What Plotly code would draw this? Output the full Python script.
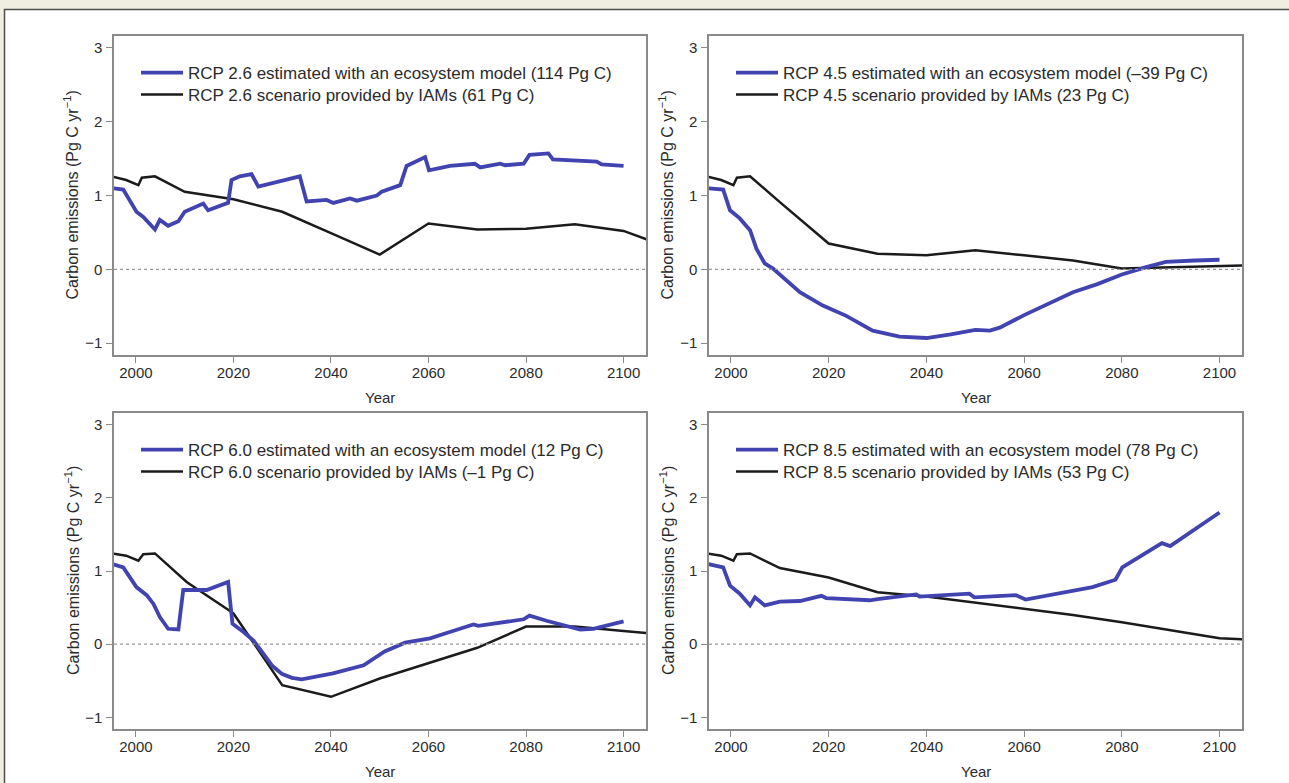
import plotly.graph_objects as go

W, H = 1289, 783

# ---- data -------------------------------------------------------------
x_tick_years = [2000, 2020, 2040, 2060, 2080, 2100]
y_tick_values = [-1, 0, 1, 2, 3]

scenarios = ["2.6", "4.5", "6.0", "8.5"]
model_totals = ["114", "–39", "12", "78"]
iam_totals = ["61", "23", "–1", "53"]

# RCP 2.6
rcp26_model_year = [1995, 1997.4, 2000.1, 2001.5, 2003.9, 2004.9, 2006.6, 2008.7, 2010, 2013.8,
                    2014.8, 2018.9, 2019.6, 2021.3, 2023.7, 2025.1, 2033.6, 2035, 2039.1, 2040.5,
                    2043.9, 2045.3, 2049.4, 2050.4, 2054.2, 2055.5, 2059.3, 2060.1, 2064.4, 2069.5,
                    2070.6, 2074.7, 2075.7, 2079.5, 2080.7, 2084.6, 2085.5, 2090.4, 2094.5, 2095.5, 2100]
rcp26_model = [1.10, 1.08, 0.78, 0.71, 0.54, 0.67, 0.59, 0.65, 0.78, 0.89,
               0.80, 0.90, 1.21, 1.26, 1.29, 1.12, 1.26, 0.92, 0.94, 0.90,
               0.96, 0.93, 1.00, 1.05, 1.14, 1.40, 1.52, 1.34, 1.40, 1.43,
               1.38, 1.43, 1.41, 1.43, 1.55, 1.57, 1.49, 1.48, 1.46, 1.42, 1.40]
rcp26_iam_year = [1995, 1998, 2000.5, 2001.2, 2003.9, 2010, 2020, 2030, 2040, 2050,
                  2060, 2070, 2080, 2090, 2100, 2110]
rcp26_iam = [1.26, 1.21, 1.14, 1.24, 1.26, 1.05, 0.95, 0.78, 0.49, 0.20,
             0.62, 0.54, 0.55, 0.61, 0.52, 0.28]

# RCP 4.5
rcp45_model_year = [1995, 1998.4, 1999.8, 2001.8, 2003.9, 2005.2, 2006.9, 2008.6, 2014.1, 2018.8,
                    2023.6, 2029, 2034.5, 2040, 2045, 2050, 2053, 2055, 2060, 2065,
                    2070, 2075, 2080, 2085, 2089, 2095, 2100]
rcp45_model = [1.10, 1.08, 0.80, 0.69, 0.53, 0.28, 0.08, 0.01, -0.31, -0.49,
               -0.63, -0.83, -0.91, -0.93, -0.88, -0.82, -0.83, -0.79, -0.62, -0.46,
               -0.31, -0.20, -0.07, 0.03, 0.10, 0.12, 0.13]
rcp45_iam_year = [1995, 1998, 2000.5, 2001.2, 2003.9, 2010, 2020, 2030, 2040, 2050,
                  2060, 2070, 2080, 2090, 2100, 2110]
rcp45_iam = [1.26, 1.21, 1.14, 1.24, 1.26, 0.91, 0.35, 0.21, 0.19, 0.26,
             0.19, 0.12, 0.01, 0.03, 0.04, 0.06]

# RCP 6.0
rcp60_model_year = [1995, 1997.4, 2000.1, 2002.2, 2003.6, 2004.9, 2006.6, 2008.7, 2009.7, 2014.5,
                    2018.9, 2019.8, 2022, 2024.1, 2026, 2028, 2030, 2032, 2034, 2040.4,
                    2046.7, 2051, 2055.2, 2060.3, 2065, 2069.2, 2070.2, 2079.5, 2080.7, 2084.2,
                    2091.1, 2093.8, 2100]
rcp60_model = [1.10, 1.05, 0.78, 0.67, 0.55, 0.37, 0.21, 0.20, 0.74, 0.74,
               0.85, 0.28, 0.17, 0.05, -0.12, -0.30, -0.41, -0.46, -0.48, -0.40,
               -0.29, -0.10, 0.02, 0.08, 0.18, 0.27, 0.25, 0.34, 0.39, 0.32,
               0.20, 0.21, 0.31]
rcp60_iam_year = [1995, 1998, 2000.5, 2001.5, 2003.9, 2010.4, 2018.9, 2020, 2030, 2040,
                  2050, 2060, 2070, 2080, 2090, 2100, 2110]
rcp60_iam = [1.24, 1.21, 1.14, 1.23, 1.24, 0.85, 0.47, 0.42, -0.56, -0.72,
             -0.47, -0.26, -0.05, 0.24, 0.24, 0.18, 0.12]

# RCP 8.5
rcp85_model_year = [1995, 1998.4, 1999.8, 2001.8, 2003.9, 2004.9, 2006.9, 2010, 2014.1, 2018.5,
                    2019.5, 2028.4, 2030.4, 2037.9, 2038.6, 2048.8, 2049.8, 2058.3, 2060.3, 2068.5,
                    2074, 2078.7, 2080.1, 2088.2, 2089.9, 2100]
rcp85_model = [1.10, 1.05, 0.80, 0.69, 0.53, 0.64, 0.53, 0.58, 0.59, 0.66,
               0.63, 0.60, 0.62, 0.68, 0.65, 0.69, 0.64, 0.67, 0.61, 0.71,
               0.78, 0.88, 1.05, 1.38, 1.34, 1.80]
rcp85_iam_year = [1995, 1998, 2000.5, 2001.2, 2003.9, 2010, 2020, 2030, 2040, 2050,
                  2060, 2070, 2080, 2090, 2100, 2110]
rcp85_iam = [1.24, 1.21, 1.14, 1.23, 1.24, 1.04, 0.91, 0.71, 0.65, 0.57,
             0.49, 0.40, 0.30, 0.19, 0.08, 0.05]

model_series = [(rcp26_model_year, rcp26_model), (rcp45_model_year, rcp45_model),
                (rcp60_model_year, rcp60_model), (rcp85_model_year, rcp85_model)]
iam_series = [(rcp26_iam_year, rcp26_iam), (rcp45_iam_year, rcp45_iam),
              (rcp60_iam_year, rcp60_iam), (rcp85_iam_year, rcp85_iam)]

# ---- styling ----------------------------------------------------------
FONT = "Liberation Sans, Arial, Helvetica, sans-serif"
BLUE = "#4043b0"
BLACK = "#1b1b1b"
AXIS_GREY = "#8a8a8a"
TEXT = "#2b2b2b"

# plot areas in pixels: (left, right, top, bottom)
panels_px = [(114, 646, 36, 355), (709, 1242, 36, 355),
             (114, 646, 413, 729), (709, 1242, 413, 729)]

fig = go.Figure()
layout = dict(
    width=W, height=H,
    margin=dict(l=0, r=0, t=0, b=0),
    paper_bgcolor="#f0ede1",
    plot_bgcolor="white",
    showlegend=True,
    font=dict(family=FONT, color=TEXT),
    annotations=[], shapes=[],
)

# outer white frame (open towards the right and bottom edges)
layout["shapes"].append(dict(
    type="rect", xref="paper", yref="paper", layer="below",
    x0=4.5 / W, x1=1.05, y0=-0.05, y1=1 - 9.5 / H,
    fillcolor="white", line=dict(color="#4d4d4d", width=1.5)))


def legend_name(k):
    return "legend" if k == 1 else f"legend{k}"


for i, (left, right, top, bottom) in enumerate(panels_px):
    n = i + 1
    xa = "x" if n == 1 else f"x{n}"
    ya = "y" if n == 1 else f"y{n}"
    leg_model = legend_name(2 * i + 1)
    leg_iam = legend_name(2 * i + 2)

    iy, iv = iam_series[i]
    my, mv = model_series[i]
    fig.add_trace(go.Scatter(
        x=iy, y=iv, mode="lines", xaxis=xa, yaxis=ya, legend=leg_iam, showlegend=True,
        line=dict(color=BLACK, width=2.5),
        name=f"RCP {scenarios[i]} scenario provided by IAMs ({iam_totals[i]} Pg C)"))
    fig.add_trace(go.Scatter(
        x=my, y=mv, mode="lines", xaxis=xa, yaxis=ya, legend=leg_model, showlegend=True,
        line=dict(color=BLUE, width=3.8),
        name=f"RCP {scenarios[i]} estimated with an ecosystem model ({model_totals[i]} Pg C)"))

    axis_common = dict(
        showline=True, mirror=True, linecolor=AXIS_GREY, linewidth=1.5,
        ticks="outside", ticklen=6, tickwidth=1.2, tickcolor=AXIS_GREY,
        showgrid=False, zeroline=False,
        tickfont=dict(size=15, color=TEXT, family=FONT),
    )
    layout[("xaxis" if n == 1 else f"xaxis{n}")] = dict(
        axis_common, domain=[left / W, right / W], anchor=ya,
        range=[1995.5, 2104.6], tickmode="array", tickvals=x_tick_years,
        ticklabelstandoff=-3)
    layout[("yaxis" if n == 1 else f"yaxis{n}")] = dict(
        axis_common, domain=[1 - bottom / H, 1 - top / H], anchor=xa,
        range=[-1.16, 3.16], tickmode="array", tickvals=y_tick_values,
        ticklabelstandoff=1)

    # dotted zero reference
    layout["shapes"].append(dict(
        type="line", xref=f"{xa} domain", yref=ya, x0=0, x1=1, y0=0, y1=0,
        line=dict(color="#9a9a9a", width=1.3, dash="dot")))

    # one legend row per series, stacked in the panel's upper-left corner
    for leg, row_y in [(leg_model, top + 37), (leg_iam, top + 59)]:
        layout[leg] = dict(
            x=(left + 22) / W, y=1 - row_y / H, xanchor="left", yanchor="middle",
            bgcolor="rgba(0,0,0,0)", borderwidth=0, itemwidth=42, visible=True,
            font=dict(size=17, color=TEXT, family=FONT))

    # axis titles
    layout["annotations"].append(dict(
        text="Carbon emissions (Pg C yr<sup>−1</sup>)", textangle=-90,
        xref="paper", yref="paper", x=(left - 42) / W, y=1 - (top + bottom) / 2 / H,
        xanchor="center", yanchor="middle", showarrow=False,
        font=dict(size=16, color=TEXT, family=FONT)))
    layout["annotations"].append(dict(
        text="Year", xref="paper", yref="paper",
        x=(left + right) / 2 / W, y=1 - (bottom + 42) / H,
        xanchor="center", yanchor="middle", showarrow=False,
        font=dict(size=15, color=TEXT, family=FONT)))

fig.update_layout(**layout)
fig.write_html("out.html")
